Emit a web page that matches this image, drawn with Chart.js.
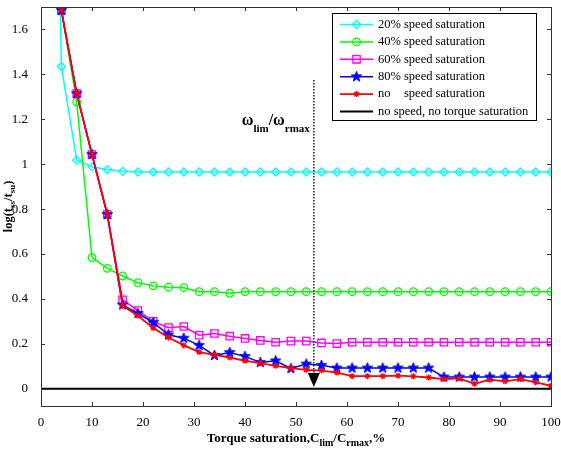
<!DOCTYPE html>
<html>
<head>
<meta charset="utf-8">
<script src="https://cdn.jsdelivr.net/npm/chart.js@4.4.0/dist/chart.umd.min.js"></script>
<style>
html, body { margin: 0; padding: 0; background: #fff; }
#wrap { width: 561px; height: 449px; position: relative; }
</style>
</head>
<body>
<div id="wrap"><canvas id="chartCanvas"></canvas></div>
<script>
// torque saturation (%) sampled every 3 %
var torqueSat = [1, 4, 7, 10, 13, 16, 19, 22, 25, 28, 31, 34, 37, 40, 43, 46, 49, 52, 55, 58,
                 61, 64, 67, 70, 73, 76, 79, 82, 85, 88, 91, 94, 97, 100];

var speed20 = [5.0, 1.435, 1.018, 0.988, 0.976, 0.968, 0.965, 0.965, 0.965, 0.965, 0.965, 0.965, 0.965, 0.965,
               0.965, 0.965, 0.965, 0.965, 0.965, 0.965, 0.965, 0.965, 0.965, 0.965, 0.965, 0.965, 0.965,
               0.965, 0.965, 0.965, 0.965, 0.965, 0.965, 0.965];
var speed40 = [null, 1.685, 1.277, 0.584, 0.536, 0.502, 0.472, 0.458, 0.452, 0.45, 0.432, 0.432, 0.425,
               0.432, 0.432, 0.432, 0.432, 0.432, 0.432, 0.432, 0.432, 0.432, 0.432, 0.432, 0.432, 0.432,
               0.432, 0.432, 0.432, 0.432, 0.432, 0.432, 0.432, 0.432];
var speed60 = [null, 1.685, 1.314, 1.043, 0.776, 0.396, 0.348, 0.30, 0.272, 0.277, 0.238, 0.246, 0.234,
               0.224, 0.215, 0.207, 0.212, 0.212, 0.204, 0.201, 0.207, 0.207, 0.207, 0.207, 0.207, 0.207,
               0.207, 0.207, 0.207, 0.207, 0.207, 0.207, 0.207, 0.207];
var speed80 = [null, 1.685, 1.314, 1.043, 0.776, 0.373, 0.335, 0.295, 0.24, 0.225, 0.193, 0.148, 0.161,
               0.144, 0.117, 0.124, 0.09, 0.11, 0.104, 0.092, 0.092, 0.092, 0.092, 0.092, 0.092, 0.092,
               0.052, 0.052, 0.052, 0.052, 0.052, 0.052, 0.052, 0.052];
var noSpeed = [null, 1.685, 1.314, 1.043, 0.776, 0.37, 0.325, 0.27, 0.228, 0.193, 0.163, 0.151, 0.139,
               0.124, 0.114, 0.102, 0.092, 0.084, 0.081, 0.072, 0.056, 0.056, 0.056, 0.058, 0.055, 0.05,
               0.043, 0.046, 0.022, 0.04, 0.033, 0.043, 0.028, 0.013];
var noSatX = [0, 100];
var noSatY = [0, 0];

var xTicks = [0, 10, 20, 30, 40, 50, 60, 70, 80, 90, 100];
var yTicks = [0, 0.2, 0.4, 0.6, 0.8, 1, 1.2, 1.4, 1.6];

var seriesLabels = ["20%  speed saturation", "40%  speed saturation", "60%  speed saturation",
                    "80%  speed saturation", "no    speed saturation", "no speed, no torque saturation"];

// the omega_lim / omega_rmax marker
var omegaX = 53.5;
var omegaTop = 1.375;

function toPoints(xs, ys) {
    var pts = [];
    for (var i = 0; i < xs.length; i++) {
        pts.push({ x: xs[i], y: ys[i] });
    }
    return pts;
}

function makeStar(r, color) {
    var c = document.createElement('canvas');
    var s = Math.ceil(r * 2) + 2;
    c.width = s; c.height = s;
    var g = c.getContext('2d');
    g.fillStyle = color; g.strokeStyle = color; g.lineWidth = 1;
    g.beginPath();
    for (var i = 0; i < 10; i++) {
        var rr = i % 2 === 0 ? r : r * 0.4;
        var a = -Math.PI / 2 + i * Math.PI / 5;
        var px = s / 2 + rr * Math.cos(a), py = s / 2 + rr * Math.sin(a);
        if (i === 0) g.moveTo(px, py); else g.lineTo(px, py);
    }
    g.closePath(); g.fill(); g.stroke();
    return c;
}
var blueStar = makeStar(5.5, '#0000FF');

var SERIF = '"Liberation Serif", "Times New Roman", serif';

// draws text with subscript pieces, returns width
function richWidth(ctx, parts, big, small) {
    var w = 0;
    parts.forEach(function (p) {
        ctx.font = 'bold ' + (p.sub ? small : big) + 'px ' + SERIF;
        w += ctx.measureText(p.t).width;
    });
    return w;
}
function drawRich(ctx, parts, x, y, big, small, drop) {
    var cx = x;
    parts.forEach(function (p) {
        ctx.font = 'bold ' + (p.sub ? small : big) + 'px ' + SERIF;
        ctx.fillText(p.t, cx, p.sub ? y + drop : y);
        cx += ctx.measureText(p.t).width;
    });
}

var framePlugin = {
    id: 'framePlugin',
    afterDatasetsDraw: function (chart) {
        var ctx = chart.ctx, a = chart.chartArea;
        var xs = chart.scales.x, ys = chart.scales.y;
        ctx.save();

        // omega annotation: dotted line + arrow
        var px = xs.getPixelForValue(omegaX);
        var yTop = ys.getPixelForValue(omegaTop);
        var yTip = ys.getPixelForValue(0.008);
        ctx.strokeStyle = '#000';
        ctx.lineWidth = 1.3;
        ctx.setLineDash([1.5, 1.5]);
        ctx.beginPath();
        ctx.moveTo(px, yTop);
        ctx.lineTo(px, yTip - 12);
        ctx.stroke();
        ctx.setLineDash([]);
        ctx.fillStyle = '#000';
        ctx.beginPath();
        ctx.moveTo(px - 6, yTip - 14);
        ctx.lineTo(px + 6, yTip - 14);
        ctx.lineTo(px, yTip);
        ctx.closePath();
        ctx.fill();

        var omegaParts = [{ t: 'ω' }, { t: 'lim', sub: true }, { t: '/ω' }, { t: 'rmax', sub: true }];
        var ow = richWidth(ctx, omegaParts, 16, 11);
        ctx.textBaseline = 'alphabetic';
        ctx.textAlign = 'left';
        drawRich(ctx, omegaParts, px - 4 - ow, ys.getPixelForValue(1.173), 16, 11, 7);

        // frame box and inward ticks
        ctx.strokeStyle = '#333';
        ctx.lineWidth = 1;
        ctx.strokeRect(Math.round(a.left) + 0.5, Math.round(a.top) + 0.5,
                       Math.round(a.right - a.left), Math.round(a.bottom - a.top));
        ctx.beginPath();
        xTicks.forEach(function (v) {
            var p = Math.round(xs.getPixelForValue(v)) + 0.5;
            ctx.moveTo(p, a.bottom); ctx.lineTo(p, a.bottom - 4);
            ctx.moveTo(p, a.top); ctx.lineTo(p, a.top + 4);
        });
        yTicks.forEach(function (v) {
            var p = Math.round(ys.getPixelForValue(v)) + 0.5;
            ctx.moveTo(a.left, p); ctx.lineTo(a.left + 4, p);
            ctx.moveTo(a.right, p); ctx.lineTo(a.right - 4, p);
        });
        ctx.stroke();

        // legend
        var lx = Math.round(a.right) - 219, ly = Math.round(a.top) + 6, lw = 204, lh = 107;
        ctx.fillStyle = '#fff';
        ctx.fillRect(lx, ly, lw, lh);
        ctx.strokeStyle = '#000';
        ctx.strokeRect(lx + 0.5, ly + 0.5, lw, lh);
        ctx.textBaseline = 'middle';
        chart.data.datasets.forEach(function (ds, i) {
            var ry = ly + 11.5 + i * 17.4;
            ctx.strokeStyle = ds.borderColor;
            ctx.lineWidth = ds.borderWidth;
            ctx.beginPath();
            ctx.moveTo(lx + 8, ry); ctx.lineTo(lx + 41, ry);
            ctx.stroke();
            if (ds.pointRadius > 0 && Chart.helpers && Chart.helpers.drawPoint) {
                ctx.fillStyle = ds.pointBackgroundColor;
                ctx.strokeStyle = ds.pointBorderColor;
                ctx.lineWidth = ds.pointBorderWidth;
                Chart.helpers.drawPoint(ctx, { pointStyle: ds.pointStyle, radius: ds.pointRadius, rotation: 0,
                                               borderWidth: ds.pointBorderWidth }, lx + 24.5, ry);
            }
            ctx.fillStyle = '#000';
            ctx.font = '12.5px ' + SERIF;
            var m = ds.label.match(/^(\S+)\s{2,}(.*)$/);
            if (m) {
                ctx.fillText(m[1], lx + 46, ry);
                ctx.fillText(m[2], lx + 72, ry);
            } else {
                ctx.fillText(ds.label, lx + 46, ry);
            }
        });

        // axis titles
        ctx.fillStyle = '#000';
        ctx.textBaseline = 'alphabetic';
        var xParts = [{ t: 'Torque saturation,C' }, { t: 'lim', sub: true }, { t: '/C' },
                      { t: 'rmax', sub: true }, { t: ',%' }];
        var xw = richWidth(ctx, xParts, 13, 10);
        drawRich(ctx, xParts, (a.left + a.right) / 2 - xw / 2, 442, 13, 10, 4);

        var yParts = [{ t: 'log(t' }, { t: 'ss', sub: true }, { t: '/t' }, { t: 'su', sub: true }, { t: ')' }];
        var yw = richWidth(ctx, yParts, 12.5, 9);
        ctx.translate(12, (a.top + a.bottom) / 2);
        ctx.rotate(-Math.PI / 2);
        drawRich(ctx, yParts, -yw / 2, 0, 12.5, 9, 3);
        ctx.restore();
    }
};

function lineSet(label, ys, color, style, radius, order, extra) {
    var ds = {
        label: label,
        data: toPoints(torqueSat, ys),
        borderColor: color,
        borderWidth: 1.5,
        pointStyle: style,
        pointRadius: radius,
        pointBorderColor: color,
        pointBackgroundColor: 'rgba(0,0,0,0)',
        pointBorderWidth: 1.3,
        tension: 0,
        spanGaps: false,
        order: order
    };
    for (var k in extra) ds[k] = extra[k];
    return ds;
}

var chart = new Chart(document.getElementById('chartCanvas'), {
    type: 'line',
    data: {
        datasets: [
            lineSet(seriesLabels[0], speed20, '#00FFFF', 'rectRot', 4, 6, { clip: 0 }),
            lineSet(seriesLabels[1], speed40, '#00FF00', 'circle', 3.8, 5, {}),
            lineSet(seriesLabels[2], speed60, '#FF00FF', 'rect', 5.2, 4, {}),
            lineSet(seriesLabels[3], speed80, '#0000FF', blueStar, 5.5, 3, { pointBackgroundColor: '#0000FF' }),
            lineSet(seriesLabels[4], noSpeed, '#FF0000', 'star', 3, 2, { borderWidth: 1.8 }),
            {
                label: seriesLabels[5],
                data: toPoints(noSatX, noSatY),
                borderColor: '#000',
                borderWidth: 2,
                pointRadius: 0,
                order: 1
            }
        ]
    },
    options: {
        responsive: true,
        maintainAspectRatio: false,
        animation: false,
        layout: { padding: { top: 7, right: 10, left: 0, bottom: 0 } },
        plugins: {
            legend: { display: false },
            tooltip: { enabled: false }
        },
        scales: {
            x: {
                type: 'linear',
                min: 0,
                max: 100,
                grid: { display: false },
                border: { display: false },
                afterBuildTicks: function (scale) {
                    scale.ticks = xTicks.map(function (v) { return { value: v }; });
                },
                afterFit: function (scale) {
                    scale.height = 43;
                    scale.paddingLeft = 0;
                    scale.paddingRight = 0;
                },
                ticks: {
                    padding: 1,
                    maxRotation: 0,
                    color: '#000',
                    font: { family: SERIF, size: 13 },
                    callback: function (v) { return String(v); }
                }
            },
            y: {
                type: 'linear',
                min: -0.077,
                max: 1.7,
                grid: { display: false },
                border: { display: false },
                afterBuildTicks: function (scale) {
                    scale.ticks = yTicks.map(function (v) { return { value: v }; });
                },
                afterFit: function (scale) {
                    scale.width = 41;
                    scale.paddingTop = 0;
                    scale.paddingBottom = 0;
                },
                ticks: {
                    padding: 5,
                    color: '#000',
                    font: { family: SERIF, size: 13 },
                    callback: function (v) { return String(v); }
                }
            }
        }
    },
    plugins: [framePlugin]
});
</script>
</body>
</html>
